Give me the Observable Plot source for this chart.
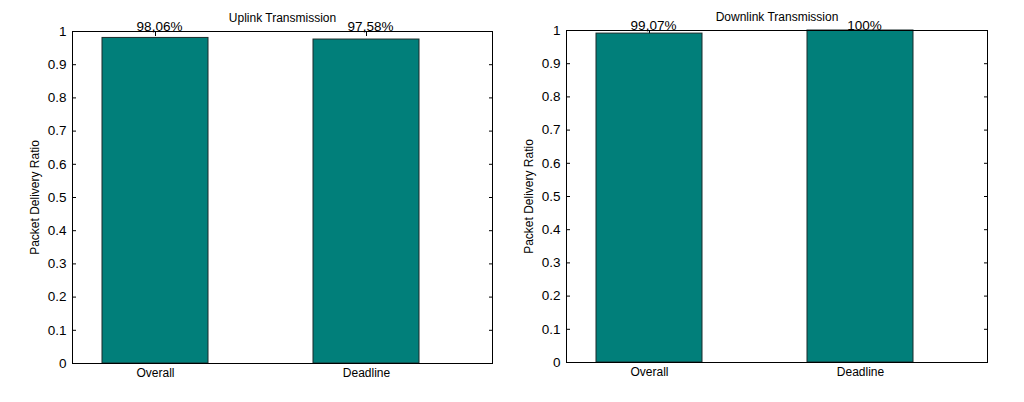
<!DOCTYPE html>
<html>
<head>
<meta charset="utf-8">
<script src="https://cdn.jsdelivr.net/npm/d3@7"></script>
<script src="https://cdn.jsdelivr.net/npm/@observablehq/plot@0.6"></script>
<style>
  html, body { margin: 0; padding: 0; background: #fff; }
  #wrap { display: flex; width: 1024px; height: 402px; }
  svg { font-family: "Liberation Sans", Arial, sans-serif; }
</style>
</head>
<body>
<div id="wrap"></div>
<script>
const categories = ["Overall", "Deadline"];
const uplinkValues = [0.9806, 0.9758];
const uplinkLabels = ["98,06%", "97,58%"];
const downlinkValues = [0.9907, 1.0];
const downlinkLabels = ["99,07%", "100%"];
const yTicks = [0, 0.1, 0.2, 0.3, 0.4, 0.5, 0.6, 0.7, 0.8, 0.9, 1];
const titles = ["Uplink Transmission", "Downlink Transmission"];
const yLabel = "Packet Delivery Ratio";

const barFill = "#017F7A";

function panel(values, labels, title, m) {
  const data = categories.map((c, i) => ({cat: c, value: values[i], label: labels[i]}));
  return Plot.plot({
    width: 512,
    height: 402,
    marginLeft: m.left,
    marginRight: m.right,
    marginTop: m.top,
    marginBottom: m.bottom,
    style: {fontFamily: "'Liberation Sans', Arial, sans-serif", background: "#fff", color: "#000"},
    x: {type: "band", domain: categories, paddingInner: 0.5, paddingOuter: 0.245, align: 0.29, label: null},
    y: {domain: [0, 1], ticks: yTicks, label: null},
    marks: [
      Plot.axisY({anchor: "left", ticks: yTicks, tickSize: -4, tickPadding: 10, tickFormat: d => String(+d.toFixed(1)), fontSize: 13.5, label: null}),
      Plot.axisY({anchor: "right", ticks: yTicks, tickSize: -4, text: null, label: null}),
      Plot.axisX({anchor: "top", tickSize: -4, text: null, label: null}),
      Plot.axisX({anchor: "bottom", tickSize: -4, tickPadding: 9, fontSize: 12, label: null}),
      Plot.barY(data, {x: "cat", y: "value", fill: barFill, stroke: "#1b2b2a", strokeWidth: 1}),
      Plot.frame({stroke: "#000", strokeWidth: 1}),
      Plot.text(data, {x: "cat", text: "label", frameAnchor: "top", lineAnchor: "bottom", dy: -1, dx: 4, fontSize: 13.5, fill: "#000"}),
      Plot.text([title], {text: d => d, frameAnchor: "top", lineAnchor: "bottom", dy: -10, fontSize: 12, fill: "#000"}),
      Plot.text([yLabel], {text: d => d, frameAnchor: "left", textAnchor: "middle", rotate: -90, dx: -37, fontSize: 12, fill: "#000"})
    ]
  });
}

const wrap = document.getElementById("wrap");
wrap.appendChild(panel(uplinkValues, uplinkLabels, titles[0], {left: 72, right: 20, top: 31, bottom: 39}));
wrap.appendChild(panel(downlinkValues, downlinkLabels, titles[1], {left: 54, right: 37, top: 30, bottom: 40}));
</script>
</body>
</html>
